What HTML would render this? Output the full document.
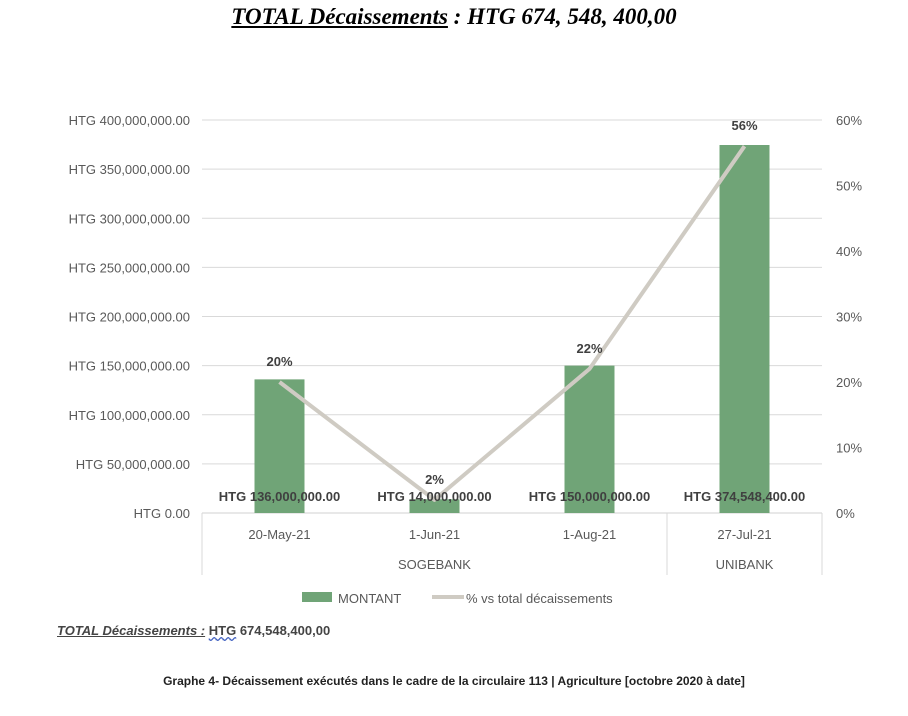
<!DOCTYPE html>
<html><head><meta charset="utf-8"><style>
body{margin:0;background:#fff;width:908px;height:716px;overflow:hidden;position:relative;font-family:"Liberation Sans",sans-serif}
.t{position:absolute;white-space:nowrap}
</style></head><body>
<div class="t" style="left:0;width:908px;top:4px;text-align:center;font-family:'Liberation Serif',serif;font-weight:bold;font-style:italic;font-size:23px"><span style="text-decoration:underline">TOTAL Décaissements</span> : HTG 674, 548, 400,00</div>
<svg id="c" width="908" height="716" style="position:absolute;left:0;top:0"></svg>
<div class="t" style="left:57px;top:623px;font-size:13px;font-weight:bold;color:#444"><i><u>TOTAL Décaissements :</u></i> <u style="text-decoration-style:wavy;text-decoration-color:#4060c0">HTG</u> 674,548,400,00</div>
<div class="t" style="left:0;width:908px;text-align:center;top:674px;font-size:12px;font-weight:bold;color:#222">Graphe 4- Décaissement exécutés dans le cadre de la circulaire 113 | Agriculture [octobre 2020 à date]</div>
<script>
const categories=["20-May-21","1-Jun-21","1-Aug-21","27-Jul-21"];
const amounts=[136000000,14000000,150000000,374548400];
const amountLabels=["HTG 136,000,000.00","HTG 14,000,000.00","HTG 150,000,000.00","HTG 374,548,400.00"];
const percents=[20,2,22,56];
const leftTicks=[0,50,100,150,200,250,300,350,400];
const leftTickLabels=["HTG 0.00","HTG 50,000,000.00","HTG 100,000,000.00","HTG 150,000,000.00","HTG 200,000,000.00","HTG 250,000,000.00","HTG 300,000,000.00","HTG 350,000,000.00","HTG 400,000,000.00"];
const rightTicks=[0,10,20,30,40,50,60];
const groups=[{name:"SOGEBANK",from:0,to:2},{name:"UNIBANK",from:3,to:3}];
const svg=document.getElementById('c'),NS="http://www.w3.org/2000/svg";
const X0=202,X1=822,Y0=513,Y1=120,BW=50;
const step=(X1-X0)/categories.length;
const xc=i=>X0+step*(i+0.5);
const yL=v=>Y0-(v/400000000)*(Y0-Y1);
const yR=p=>Y0-(p/60)*(Y0-Y1);
function el(t,a,txt){const e=document.createElementNS(NS,t);for(const k in a)e.setAttribute(k,a[k]);if(txt!=null)e.textContent=txt;svg.appendChild(e);return e;}
leftTicks.forEach((t,i)=>{const y=yL(t*1e6);
const g=el('line',{x1:X0,x2:X1,y1:y,y2:y,stroke:i?'#d9d9d9':'#d0d0d0','stroke-width':1});

const l=el('text',{x:190,y:y+5,'text-anchor':'end','font-size':13,fill:'#595959','font-family':'Liberation Sans'},leftTickLabels[i]);
});
rightTicks.forEach(p=>{const l=el('text',{x:836,y:yR(p)+5,'font-size':13,fill:'#595959','font-family':'Liberation Sans'},p+'%');
});
// category axis dividers
const divs=[X0,X0+step*3,X1];
divs.forEach(x=>{const d=el('line',{x1:x,x2:x,y1:Y0,y2:575,stroke:'#d9d9d9'});});
categories.forEach((c,i)=>{const t=el('text',{x:xc(i),y:539,'text-anchor':'middle','font-size':13,fill:'#595959','font-family':'Liberation Sans'},c);
});
groups.forEach(g=>{const x=(X0+step*g.from+X0+step*(g.to+1))/2;
const t=el('text',{x:x,y:569,'text-anchor':'middle','font-size':13,fill:'#595959','font-family':'Liberation Sans'},g.name);
});
amounts.forEach((v,i)=>{const b=el('rect',{x:xc(i)-BW/2,y:yL(v),width:BW,height:Y0-yL(v),fill:'#70a477'});
});
const pts=percents.map((p,i)=>xc(i)+','+yR(p)).join(' ');
const ln=el('polyline',{points:pts,fill:'none',stroke:'#cfcbc3','stroke-width':4,'stroke-linejoin':'round'});

percents.forEach((p,i)=>{const t=el('text',{x:xc(i),y:yR(p)-16,'text-anchor':'middle','font-size':13,'font-weight':'bold',fill:'#404040','font-family':'Liberation Sans'},p+'%');
});
amountLabels.forEach((s,i)=>{const t=el('text',{x:xc(i),y:501,'text-anchor':'middle','font-size':13,'font-weight':'bold',fill:'#404040','font-family':'Liberation Sans'},s);
});
const lr=el('rect',{x:302,y:592,width:30,height:10,fill:'#70a477'});
const lt=el('text',{x:338,y:603,'font-size':13,fill:'#595959','font-family':'Liberation Sans'},'MONTANT');
const ll=el('line',{x1:432,x2:464,y1:597,y2:597,stroke:'#cfcbc3','stroke-width':4});
const lt2=el('text',{x:466,y:603,'font-size':13,fill:'#595959','font-family':'Liberation Sans'},'% vs total décaissements');
</script>
</body></html>
